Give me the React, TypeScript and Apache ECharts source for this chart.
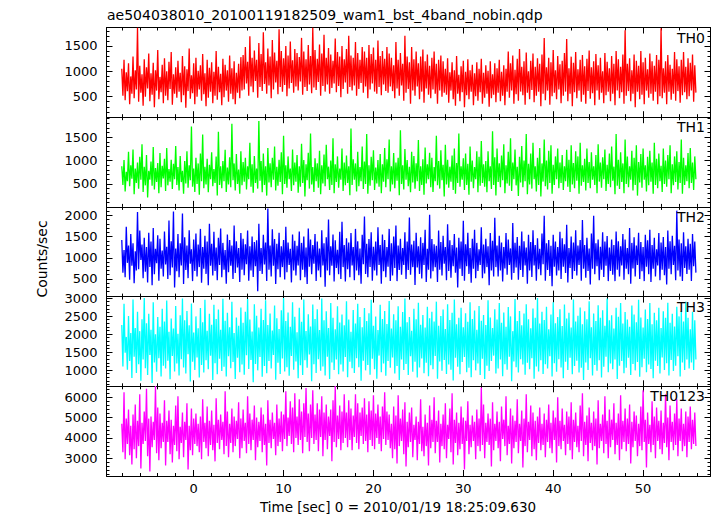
import React, { useEffect, useRef } from "react";
import * as echarts from "echarts";

const TITLE = "ae504038010_20100119182509_wam1_bst_4band_nobin.qdp";
const X_LABEL = "Time [sec] 0 = 2010/01/19 18:25:09.630";
const Y_LABEL = "Counts/sec";

const T_START = -8;
const T_STEP = 0.125;

const th0 = [
  1050,520,1230,430,980,610,1160,350,900,560,1290,470,1020,640,1860,400,1110,580,940,320,
  1240,500,1080,660,1350,410,960,540,1170,290,1020,620,1420,450,890,590,1130,370,1260,520,
  1000,430,1190,650,1380,340,940,560,1080,480,1210,600,970,390,1300,530,1100,280,1040,610,
  1450,460,920,570,1160,350,1270,500,1010,640,1120,420,1340,550,960,310,1230,480,1070,600,
  1180,370,990,520,1400,440,1090,590,950,330,1250,490,1130,620,1020,400,1310,560,1060,450,
  1200,350,970,580,1150,470,1280,620,
  1320,640,1480,760,1190,520,1690,700,1270,590,1410,810,1230,480,1560,690,1340,610,1770,750,
  1180,560,1450,720,1290,470,1620,640,1370,780,1210,550,1830,690,1400,600,1260,730,1500,510,
  1310,660,1590,770,1220,580,1440,700,1360,620,1280,800,1660,540,1390,690,1240,610,1520,740,
  1300,570,1860,680,1420,630,1250,790,1530,520,1350,710,1720,600,1270,740,1460,560,1330,670,
  1210,760,1650,590,1380,710,1290,490,1500,650,1240,780,1440,560,1700,690,1310,620,1270,720,
  1580,520,1360,650,1230,770,1480,580,1390,700,1270,470,1520,640,1340,760,1470,600,1230,560,
  1610,690,1300,530,1400,740,1250,610,1480,580,1350,700,
  1270,610,1120,470,1580,660,1230,520,1360,720,1150,420,1700,580,1290,650,1180,360,1480,620,
  1240,520,1390,700,1160,450,1290,600,1430,380,1200,660,1330,540,1110,470,1270,640,1390,560,
  1150,360,1230,620,1310,500,1200,580,
  1050,540,1260,380,980,620,1180,450,1020,320,1300,560,930,410,1100,590,1210,290,990,530,
  1240,450,1020,600,1130,330,960,510,1180,420,1050,590,1250,360,970,480,1120,560,1010,300,
  1200,470,940,540,1160,390,1060,580,1230,410,990,520,1120,330,1050,600,
  1390,480,1160,620,1310,360,1030,550,1250,420,1440,600,1090,530,1200,340,1370,580,1000,450,
  1210,630,1350,390,1090,520,1260,600,1150,310,1330,560,1660,430,1080,620,1270,340,1180,510,
  1420,580,1020,450,1300,640,1140,370,1210,520,1360,600,1640,410,1060,560,1290,310,1170,590,
  1380,470,1040,620,1230,400,1320,540,1100,360,1250,610,1410,460,1080,570,1200,330,1340,620,
  1120,440,1270,580,1000,370,1360,530,1190,600,1060,410,1300,560,1150,330,1400,620,1240,470,
  1090,590,1330,360,1810,520,1150,610,1260,410,1020,560,1330,290,1210,600,1110,450,1400,540,
  1180,350,1270,620,1040,480,1350,560,1200,420,1110,600,1320,350,1230,510,1850,470,1060,580,
  1200,350,1320,600,1130,440,1050,560,1380,420,1240,610,1100,380,1230,530,1380,590,1090,450,
  1260,510,1170,620,1330,400,1120,580,
];

const th1 = [
  880,480,1010,340,760,560,1190,450,900,610,1240,280,830,520,960,400,1080,590,1350,330,
  870,470,1120,210,780,590,980,460,1290,380,840,540,950,300,1160,430,890,620,1040,350,
  1270,470,820,550,1020,390,930,600,1310,480,860,360,1100,540,780,290,990,510,1200,420,
  900,580,1730,440,830,330,1060,500,940,270,1150,560,1560,410,870,490,1040,320,910,600,
  1180,450,820,520,1090,250,1620,480,880,410,990,560,1230,330,850,490,1070,430,1790,580,
  940,360,1140,500,810,290,1200,470,970,550,1060,380,880,600,1380,440,920,310,1100,520,
  830,400,1850,570,990,320,1150,480,880,250,1270,530,940,430,1060,590,1300,360,870,460,
  1020,540,1180,280,1530,500,900,420,1090,600,830,350,1240,470,960,550,1120,310,880,440,
  1360,520,1010,230,920,580,1170,400,1580,490,860,330,1050,560,940,420,1210,280,900,510,
  1130,450,1340,600,870,370,1000,480,1480,300,920,540,1090,420,830,590,1260,350,960,470,
  1110,520,880,260,1690,480,1030,590,940,340,1190,450,860,560,1300,390,980,500,1570,290,
  900,460,1080,580,1220,370,850,510,1010,440,1140,300,920,550,1270,430,1030,600,1450,340,
  880,490,1160,410,960,570,1060,260,1650,500,900,380,1250,590,1010,450,870,320,1190,530,
  1100,400,940,560,1440,350,880,480,1030,270,1280,510,920,600,1170,430,1060,330,860,560,
  1530,470,990,400,1220,580,910,230,1340,490,1020,420,870,550,1110,370,1260,290,950,520,
  1580,440,880,590,1050,370,1150,480,930,270,1300,550,1000,410,860,600,1200,320,1080,460,
  1420,520,920,440,990,320,1200,560,880,390,1630,480,1070,250,1260,540,940,430,1110,580,
  1350,300,900,510,1190,460,1480,350,960,600,1240,470,870,240,1080,530,1310,430,1000,560,
  1570,280,930,490,1150,400,1380,600,880,340,1060,480,1270,230,940,550,1450,450,1000,380,
  1210,520,1330,290,910,480,1090,600,1260,410,960,520,1120,370,880,560,1230,440,1020,330,
  1330,490,950,410,1200,570,1090,290,1380,460,900,540,1040,360,1260,520,970,410,1180,590,
  880,480,1120,300,1350,550,960,420,1070,600,1240,350,910,500,1150,430,1300,570,870,280,
  1570,460,1020,390,1180,540,940,300,1450,500,1090,430,880,590,1210,360,1060,480,1330,250,
  970,530,1140,420,1260,590,900,340,1080,470,1210,550,960,290,1380,480,1040,410,1150,560,
  890,330,1260,500,1000,440,1120,600,1330,300,920,470,1090,540,1200,380,970,520,1450,290,
  1060,480,900,560,1160,410,1270,520,960,370,1090,600,
];

const th2 = [
  1420,650,1180,540,1730,880,1290,480,1560,810,1340,400,1150,700,2080,730,1640,950,1310,520,
  1470,670,1250,420,1590,780,1380,350,1700,610,1210,870,1530,460,1450,740,1170,560,1620,840,
  1260,500,1880,590,1390,770,2090,300,1220,680,1560,540,1340,820,2040,380,1480,710,1290,520,
  1650,860,1200,450,1430,690,1570,560,1310,780,1680,410,1250,740,1520,620,1380,350,1800,810,
  1330,580,1610,690,1240,470,1470,830,1690,540,1350,720,1180,390,1550,660,1420,810,1290,500,
  1760,640,1390,770,1230,430,1580,720,1450,590,1320,850,1640,460,1270,700,1500,550,1370,800,
  1410,210,1800,690,1230,620,1540,840,1360,450,2160,720,1290,560,1670,810,1440,380,1330,730,
  1590,540,1270,780,1420,490,1730,660,1360,830,1210,420,1550,700,1400,580,1280,820,1620,470,
  1350,720,1500,540,1240,380,1690,790,1430,610,1300,860,1560,450,1380,700,1220,540,1650,820,
  1340,320,1480,700,1900,590,1270,810,1550,440,1410,760,1190,610,1610,500,1850,780,1300,440,
  1460,730,1360,540,1580,820,1250,470,1680,700,1390,590,1220,390,1540,850,1970,620,1330,540,
  1440,780,1600,460,1260,700,1380,580,1720,830,1300,390,1550,680,1420,540,1250,790,1680,450,
  1340,580,1500,760,1760,450,1290,710,1450,600,1230,830,1600,500,1380,710,1950,600,1310,780,
  1400,360,1590,770,1270,620,1480,510,1350,830,1660,430,1210,720,2010,510,1440,680,1320,780,
  1280,430,1640,720,1370,580,1520,860,1250,470,1790,690,1410,530,1300,800,1560,650,1240,300,
  1470,740,1380,570,1870,460,1320,800,1590,620,1230,410,1450,740,1660,520,1350,690,1200,830,
  1720,520,1310,630,1450,780,1270,350,1580,700,1400,560,1940,780,1290,560,1520,700,1360,440,
  1250,750,1580,600,1430,830,1220,480,1820,640,1350,770,1490,480,1280,710,1620,550,1390,820,
  1240,390,1540,700,1370,550,1650,820,1300,460,1460,730,1210,590,1570,850,1990,460,1340,710,
  1420,570,1280,330,1540,790,1380,580,1250,700,1610,500,1460,790,1320,640,1780,420,1230,760,
  1500,500,1360,690,1650,580,1290,830,1420,460,1890,740,1300,530,1470,690,1220,370,1570,740,
  1990,610,1340,800,1430,470,1260,720,1600,550,1380,810,1510,450,1240,690,1430,600,1300,450,
  1620,720,1390,560,1270,820,1560,480,1430,740,1230,610,1700,390,1350,750,1480,560,1290,830,
  1590,500,1370,680,1250,450,1540,790,1410,610,1660,430,1300,740,1470,560,1200,820,1580,470,
  1360,720,1490,590,1250,370,1640,740,1390,610,1520,830,1280,470,2110,700,1430,560,1340,450,
  1600,760,1270,620,1450,720,1330,450,1560,800,1380,650,
];

const th3 = [
  2250,1100,2840,1480,1920,1010,2500,1250,2030,780,2960,1370,2170,920,2620,1160,2080,700,2410,1290,
  3000,1050,2300,860,2560,1420,2120,640,2880,1210,1990,950,2470,1330,2200,820,2700,1120,2350,1040,
  2930,1260,2060,740,2430,1390,2150,960,2780,1180,2010,850,2520,1300,2990,1070,2380,900,2640,1440,
  2240,680,2850,1230,2040,1000,2490,1350,2160,790,2720,1140,2330,930,2950,1270,2090,1020,2560,1400,
  2260,720,2810,1190,2420,880,2680,1310,2120,970,2980,1090,2370,820,2590,1380,2190,1050,2900,1220,
  2030,750,2460,1340,2230,940,2740,1150,2310,870,2620,1410,2970,1030,2400,1280,2070,660,2830,1170,
  2510,990,2180,1360,2700,810,2390,1110,2940,910,2250,1250,2570,1040,2100,1420,2790,730,2440,1200,
  2140,890,2660,1320,3000,960,2360,1080,2600,840,2200,1390,2880,1010,2480,1240,2050,770,2730,1130,
  2340,860,2960,1270,2080,1060,2550,1430,2210,690,2820,1160,2420,920,2690,1300,2110,980,2990,1100,
  2380,850,2630,1370,2170,750,2860,1210,2450,1000,2130,1290,2770,880,2320,1150,2540,960,2240,1360,
  2910,800,2400,1230,2060,1050,2670,920,2290,1330,2840,1080,2470,700,2190,1260,2720,990,2360,1140,
  2580,870,2950,1310,2230,1020,2490,760,2110,1400,2810,940,2420,1180,2640,840,2280,1250,2920,1060,
  2150,1350,2550,900,2380,1110,2770,720,2200,1290,2610,1000,2990,1170,2330,860,2470,1380,2090,950,
  2700,1230,2410,790,2870,1070,2260,1320,2530,910,2180,1200,2760,830,2440,1130,2620,1020,2350,1390,
  2900,760,2230,1240,2500,980,2680,1280,2140,890,2830,1150,2390,1010,2590,710,2960,1340,2270,1090,
  2450,880,2730,1220,2190,1360,2580,940,2340,1060,2880,800,2420,1270,2650,990,2120,1180,2780,860,
  2370,1310,2530,750,2250,1120,2940,970,2460,1250,2170,1400,2690,900,2400,1040,2860,1290,2310,830,
  2600,1160,2200,1010,2750,1370,2490,690,2080,1240,2970,1080,2360,930,2640,1300,2240,1150,2570,870,
  2830,1200,2410,1020,2160,1330,2710,760,2450,1100,3000,960,2290,1270,2620,890,2390,1160,2760,1040,
  2130,1380,2540,820,2880,1190,2300,950,2470,1300,2690,1070,2220,770,2820,1230,2430,1000,2590,1340,
  2180,880,2960,1110,2350,1260,2510,930,2740,1060,2270,720,2630,1210,2410,1000,2910,1330,2190,850,
  2570,1140,2360,980,2800,1270,2450,790,2660,1090,2230,1370,2990,940,2380,1180,2520,1020,2150,1290,
  2730,750,2480,1120,2860,1250,2290,910,2610,1060,2400,1340,2200,860,2790,1170,2540,990,2330,1220,
  2950,810,2460,1080,2180,1310,2680,940,2420,1150,2860,1030,2270,770,2590,1260,2380,1110,2730,900,
  2170,1350,2630,1000,2450,1190,2870,850,2310,1280,2560,970,2210,1120,2760,1380,2490,820,2640,1210,
  2350,1000,2900,1290,2450,1040,2130,1210,2620,1000,2380,1290,
];

const th0123 = [
  4700,3300,6250,2950,4950,3700,5400,3150,4600,2700,5150,3450,5650,3000,4850,3600,6150,2500,4750,3700,
  5300,3850,6420,3100,4950,2350,5050,3550,4800,3900,6550,3250,5500,2900,5200,3500,4750,3800,5850,2650,
  4850,3800,5350,3200,4900,2800,4600,3650,5600,3350,6050,2950,4550,3750,5250,3050,4800,3900,5700,2450,
  4600,3400,5450,3150,4950,3700,5200,3600,4700,3300,5050,2950,5900,3800,4750,3500,5550,3100,4850,3650,
  5350,3400,4650,2850,5950,3750,4900,3450,5150,3900,4800,3200,6300,3600,5300,3050,4700,3750,5450,3300,
  5050,3600,4850,3950,5750,3000,4950,3500,5400,3850,4750,3250,6050,3700,5200,3400,4900,3900,5600,2900,
  5000,3550,4800,3850,5500,3300,5150,3650,4700,2650,5850,3750,4900,3500,5250,3950,4750,3150,5650,3600,
  4950,3800,5300,3350,5150,3950,6300,3600,5000,4100,5800,3700,5500,3300,6200,4000,5050,3650,5900,3900,
  5300,3250,5700,4050,6450,3800,5200,3350,5650,4000,6350,3700,5150,3900,5700,3350,5400,4050,6050,3100,
  5250,3900,5650,3450,5050,4100,5400,2850,5850,3800,6550,3550,5100,3950,5600,3400,5300,3750,6150,4000,
  5250,3550,5850,3900,5450,3400,5100,4050,6150,3750,5700,3450,5250,4100,5500,3700,5950,3850,5150,3300,
  5800,3900,5350,3600,6100,3450,5200,4000,5650,3700,5050,3350,5550,3950,6250,3650,5300,3900,5150,3500,
  4700,3000,5550,3450,5100,2750,6100,3600,4950,3850,5400,3200,5750,2600,4800,3550,5250,3800,5500,3050,
  4650,3900,5050,2900,4800,3700,5900,3350,4550,3100,5150,3600,4750,2650,5600,3500,4900,3800,6000,3250,
  4850,3800,5350,2800,4700,3600,5150,3450,5700,3000,4650,3950,5450,3300,6200,2700,4900,3750,5250,3150,
  4750,3450,5550,3700,5000,2450,4850,3850,5800,3200,4650,3550,5100,3850,4800,2950,5400,3600,4950,3350,
  6480,3650,5650,3000,4750,3800,5200,3650,4950,2600,5750,3400,4700,3850,5300,3500,4800,2850,5550,3950,
  4900,3600,6050,3150,4600,3700,5450,2750,5100,3500,4850,3800,5900,3250,4700,3850,5350,2550,4950,3600,
  6150,3300,4800,3900,5600,3100,5250,3450,4850,2900,5050,3750,5500,3400,4700,3650,5200,3050,4900,3800,
  5650,3500,4750,3250,5350,3900,5000,2800,6000,3600,4850,3450,5450,3850,4650,3150,5300,3700,5050,3400,
  5750,2950,4900,3800,5250,3550,4600,3300,5600,3850,6200,3100,4800,3650,5100,2850,5500,3750,4750,3400,
  5300,3600,4950,2700,5850,3500,4700,3850,5150,3250,6050,3700,4850,3000,5400,3550,4900,3900,5700,3200,
  4750,3650,5200,2900,6100,3450,4850,3800,5450,3350,4950,3700,5650,2750,4800,3550,5300,3850,5100,3100,
  4700,3600,5550,3400,6350,3800,4900,2550,5250,3700,4650,3300,5800,3650,5050,3000,5500,3850,4850,3450,
  5350,3200,4750,3750,6150,3550,5000,2900,5600,3800,4800,3400,5200,3650,5900,3100,4950,3850,5450,3350,
  4700,3600,5300,3050,5050,3800,5550,3450,4900,3700,5250,3600,
];

const panelSeries = [th0, th1, th2, th3, th0123];
const panelNames = ["TH0", "TH1", "TH2", "TH3", "TH0123"];
const panelColors = ["#ff0000", "#00ff00", "#0000ff", "#00ffff", "#ff00ff"];
const yMins = [95, 8, 85, 547, 2130];
const yMaxs = [1865, 1930, 2198, 3040, 6540];
const yMajorTicks = [
  [500, 1000, 1500],
  [500, 1000, 1500],
  [500, 1000, 1500, 2000],
  [1000, 1500, 2000, 2500, 3000],
  [3000, 4000, 5000, 6000],
];
const yMinorSteps = [100, 100, 100, 100, 200];

const X_MIN = -9.7;
const X_MAX = 57.5;
const xMajorTicks = [0, 10, 20, 30, 40, 50];
const xMinorTicks = [-8, -6, -4, -2, 2, 4, 6, 8, 12, 14, 16, 18, 22, 24, 26, 28, 32, 34, 36, 38, 42, 44, 46, 48, 52, 54, 56];

const FONT = "DejaVu Sans";
const PLOT_LEFT = 106.5;
const PLOT_RIGHT = 710.5;
const PLOT_TOP = 27.5;
const PANEL_H = 89.7;
const LINE_W = 1.3;

function minorValues(min: number, max: number, step: number): number[] {
  const out: number[] = [];
  for (let v = Math.ceil(min / step) * step; v <= max; v += step) out.push(v);
  return out;
}

const plain = (v: number) => String(v);

export default function App() {
  const ref = useRef<HTMLDivElement>(null);
  useEffect(() => {
    document.body.style.margin = "0";
    const chart = echarts.init(ref.current!, null, { renderer: "svg" });
    const grids: any[] = [];
    const xAxes: any[] = [];
    const yAxes: any[] = [];
    const series: any[] = [];
    const graphics: any[] = [];
    const lineStyle = { color: "#000", width: 1 };

    panelSeries.forEach((vals, k) => {
      const top = PLOT_TOP + k * PANEL_H;
      grids.push({ left: PLOT_LEFT, width: PLOT_RIGHT - PLOT_LEFT, top, height: PANEL_H });
      const xBase = { type: "value", gridIndex: k, min: X_MIN, max: X_MAX, splitLine: { show: false }, minorTick: { show: false } };
      const isLast = k === panelSeries.length - 1;
      xAxes.push({
        ...xBase, position: "bottom",
        axisLine: { show: true, onZero: false, lineStyle },
        axisTick: { show: true, inside: true, length: 6, customValues: xMajorTicks, lineStyle },
        axisLabel: isLast
          ? { show: true, customValues: xMajorTicks, formatter: plain, margin: 6, fontSize: 13, fontFamily: FONT, color: "#000" }
          : { show: false },
      });
      xAxes.push({
        ...xBase, position: "bottom",
        axisLine: { show: false, onZero: false },
        axisTick: { show: true, inside: true, length: 3, customValues: xMinorTicks, lineStyle },
        axisLabel: { show: false },
      });
      xAxes.push({
        ...xBase, position: "top",
        axisLine: { show: true, onZero: false, lineStyle },
        axisTick: { show: true, inside: true, length: 6, customValues: xMajorTicks, lineStyle },
        axisLabel: { show: false },
      });
      xAxes.push({
        ...xBase, position: "top",
        axisLine: { show: false, onZero: false },
        axisTick: { show: true, inside: true, length: 3, customValues: xMinorTicks, lineStyle },
        axisLabel: { show: false },
      });

      const yMin = yMins[k];
      const yMax = yMaxs[k];
      const minors = minorValues(yMin, yMax, yMinorSteps[k]);
      const yBase = { type: "value", gridIndex: k, min: yMin, max: yMax, splitLine: { show: false }, minorTick: { show: false } };
      yAxes.push({
        ...yBase, position: "left",
        axisLine: { show: true, onZero: false, lineStyle },
        axisTick: { show: true, inside: true, length: 6, customValues: yMajorTicks[k], lineStyle },
        axisLabel: { show: true, customValues: yMajorTicks[k], formatter: plain, margin: 9, fontSize: 13, fontFamily: FONT, color: "#000" },
      });
      yAxes.push({
        ...yBase, position: "left",
        axisLine: { show: false, onZero: false },
        axisTick: { show: true, inside: true, length: 3, customValues: minors, lineStyle },
        axisLabel: { show: false },
      });
      yAxes.push({
        ...yBase, position: "right",
        axisLine: { show: true, onZero: false, lineStyle },
        axisTick: { show: true, inside: true, length: 6, customValues: yMajorTicks[k], lineStyle },
        axisLabel: { show: false },
      });
      yAxes.push({
        ...yBase, position: "right",
        axisLine: { show: false, onZero: false },
        axisTick: { show: true, inside: true, length: 3, customValues: minors, lineStyle },
        axisLabel: { show: false },
      });

      series.push({
        type: "line",
        xAxisIndex: 4 * k,
        yAxisIndex: 4 * k,
        data: vals.map((v, i) => [T_START + i * T_STEP, v]),
        showSymbol: false,
        symbol: "none",
        silent: true,
        clip: true,
        lineStyle: { color: panelColors[k], width: LINE_W, join: "bevel" },
        itemStyle: { color: panelColors[k] },
        z: 1,
      });

      graphics.push({
        type: "text",
        x: 705,
        y: top + 10,
        z: 10,
        style: {
          text: panelNames[k], fill: "#000", font: `14px "${FONT}"`,
          textAlign: "right", textVerticalAlign: "middle", align: "right", verticalAlign: "middle",
        },
      });
    });

    graphics.push({
      type: "text", x: 107, y: 15,
      style: { text: TITLE, fill: "#000", font: `14px "${FONT}"`, textAlign: "left", textVerticalAlign: "middle", align: "left", verticalAlign: "middle" },
    });
    graphics.push({
      type: "text", x: 398, y: 507,
      style: { text: X_LABEL, fill: "#000", font: `13.5px "${FONT}"`, textAlign: "center", textVerticalAlign: "middle", align: "center", verticalAlign: "middle" },
    });
    graphics.push({
      type: "text", x: 42, y: 259, rotation: Math.PI / 2,
      style: { text: Y_LABEL, fill: "#000", font: `14px "${FONT}"`, textAlign: "center", textVerticalAlign: "middle", align: "center", verticalAlign: "middle" },
    });

    chart.setOption({
      animation: false,
      backgroundColor: "#fff",
      grid: grids,
      xAxis: xAxes,
      yAxis: yAxes,
      series,
      graphic: graphics,
    });
    return () => chart.dispose();
  }, []);
  return <div ref={ref} style={{ width: 717, height: 516 }} />;
}
